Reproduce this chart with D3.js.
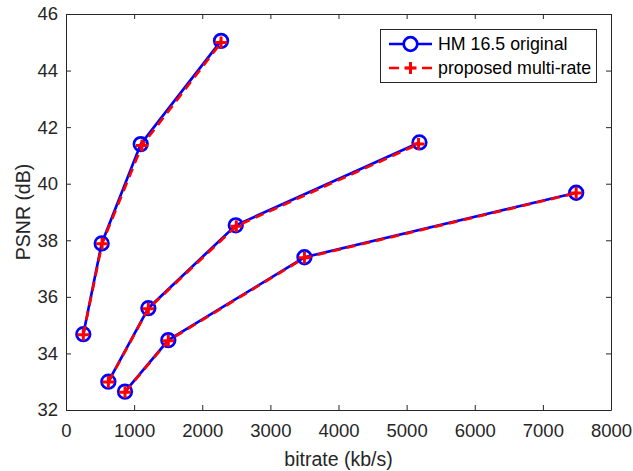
<!DOCTYPE html>
<html>
<head>
<meta charset="utf-8">
<script src="https://cdn.jsdelivr.net/npm/d3@7"></script>
<style>
  body { margin: 0; background: #fff; }
  text { font-family: "Liberation Sans", Arial, sans-serif; fill: #262626; }
</style>
</head>
<body>
<svg class="chart" width="633" height="471"></svg>
<script>
let width = 633, height = 471;
let margin = {left: 66, right: 22, top: 14, bottom: 61};

// data (bitrate kb/s, PSNR dB), three curves per method
const xTicks = [0, 1000, 2000, 3000, 4000, 5000, 6000, 7000, 8000];
const yTicks = [32, 34, 36, 38, 40, 42, 44, 46];

const hmBitrate = [
    [254, 524, 1097, 2276],
    [622, 1209, 2492, 5188],
    [866, 1502, 3500, 7489]
];
const hmPsnr = [
    [34.68, 37.89, 41.40, 45.05],
    [33.00, 35.60, 38.53, 41.46],
    [32.65, 34.47, 37.40, 39.68]
];
const propBitrate = [
    [254, 530, 1115, 2276],
    [622, 1209, 2500, 5175],
    [866, 1502, 3500, 7489]
];
const propPsnr = [
    [34.66, 37.88, 41.35, 44.99],
    [32.99, 35.58, 38.50, 41.40],
    [32.63, 34.45, 37.38, 39.67]
];
const seriesNames = ["HM 16.5 original", "proposed multi-rate"];

const svg = d3.select(".chart");
const axisColor = "#262626";

const xScale = d3.scaleLinear().domain([0, 8000]).range([margin.left, width - margin.right]);
const yScale = d3.scaleLinear().domain([32, 46]).range([height - margin.bottom, margin.top]);

// axes box with inward ticks
function styleAxis(g) {
    g.select(".domain").attr("stroke", axisColor).attr("stroke-width", 1);
    g.selectAll(".tick line").attr("stroke", axisColor);
    g.selectAll(".tick text").style("font-size", "18.5px").attr("fill", axisColor);
}

svg.append("g")
    .attr("transform", `translate(0, ${height - margin.bottom})`)
    .call(d3.axisBottom(xScale).tickValues(xTicks).tickFormat(d3.format("d"))
        .tickSize(-5).tickPadding(9).tickSizeOuter(0))
    .call(styleAxis)
    .selectAll(".tick text").attr("dy", "0.95em");

svg.append("g")
    .attr("transform", `translate(0, ${margin.top})`)
    .call(d3.axisTop(xScale).tickValues(xTicks).tickSize(-5).tickFormat("").tickSizeOuter(0))
    .call(styleAxis);

svg.append("g")
    .attr("transform", `translate(${margin.left}, 0)`)
    .call(d3.axisLeft(yScale).tickValues(yTicks).tickSize(-5).tickPadding(8).tickSizeOuter(0))
    .call(styleAxis);

svg.append("g")
    .attr("transform", `translate(${width - margin.right}, 0)`)
    .call(d3.axisRight(yScale).tickValues(yTicks).tickSize(-5).tickFormat("").tickSizeOuter(0))
    .call(styleAxis);

// axis labels
svg.append("text")
    .attr("x", (margin.left + width - margin.right) / 2)
    .attr("y", 466)
    .attr("text-anchor", "middle")
    .style("font-size", "19.5px")
    .text("bitrate (kb/s)");

svg.append("text")
    .attr("transform", `translate(30, ${(margin.top + height - margin.bottom) / 2}) rotate(-90)`)
    .attr("text-anchor", "middle")
    .style("font-size", "19.5px")
    .text("PSNR (dB)");

const line = d3.line().x(d => xScale(d[0])).y(d => yScale(d[1]));

function pairs(bx, py) {
    return bx.map((row, i) => row.map((b, j) => [b, py[i][j]]));
}
const hmData = pairs(hmBitrate, hmPsnr);
const propData = pairs(propBitrate, propPsnr);

// HM 16.5 original - blue solid with circles
const blue = svg.append("g");
blue.selectAll("path").data(hmData).enter().append("path")
    .attr("d", line).attr("fill", "none").attr("stroke", "#0000ff").attr("stroke-width", 2.7);
blue.selectAll("circle").data(hmData.flat()).enter().append("circle")
    .attr("cx", d => xScale(d[0])).attr("cy", d => yScale(d[1])).attr("r", 6.8)
    .attr("fill", "none").attr("stroke", "#0000ff").attr("stroke-width", 2.7);

// proposed - red dashed with plus
const red = svg.append("g");
red.selectAll("path").data(propData).enter().append("path")
    .attr("d", line).attr("fill", "none").attr("stroke", "#ff0000")
    .attr("stroke-width", 2.7).attr("stroke-dasharray", "9,6");
const plus = "M-6,0H6M0,-6V6";
red.selectAll(".plus").data(propData.flat()).enter().append("path")
    .attr("class", "plus")
    .attr("transform", d => `translate(${xScale(d[0])},${yScale(d[1])})`)
    .attr("d", plus).attr("stroke", "#ff0000").attr("stroke-width", 3);

// legend
const legend = svg.append("g");
legend.append("rect")
    .attr("x", 380.5).attr("y", 29.5).attr("width", 216).attr("height", 53)
    .attr("fill", "#fff").attr("stroke", axisColor).attr("stroke-width", 1);

const rows = [44, 68];
legend.append("line").attr("x1", 389).attr("x2", 432).attr("y1", rows[0]).attr("y2", rows[0])
    .attr("stroke", "#0000ff").attr("stroke-width", 2.7);
legend.append("circle").attr("cx", 410.5).attr("cy", rows[0]).attr("r", 6.8)
    .attr("fill", "#fff").attr("stroke", "#0000ff").attr("stroke-width", 2.7);
legend.append("line").attr("x1", 389).attr("x2", 432).attr("y1", rows[1]).attr("y2", rows[1])
    .attr("stroke", "#ff0000").attr("stroke-width", 2.7).attr("stroke-dasharray", "10,6.5");
legend.append("path").attr("transform", `translate(410.5,${rows[1]})`)
    .attr("d", plus).attr("stroke", "#ff0000").attr("stroke-width", 3);

legend.selectAll(".lbl").data(seriesNames).enter().append("text")
    .attr("class", "lbl")
    .attr("x", 438).attr("y", (d, i) => rows[i])
    .attr("dy", "0.35em")
    .style("font-size", "17.8px")
    .style("fill", "#000")
    .text(d => d);
</script>
</body>
</html>
